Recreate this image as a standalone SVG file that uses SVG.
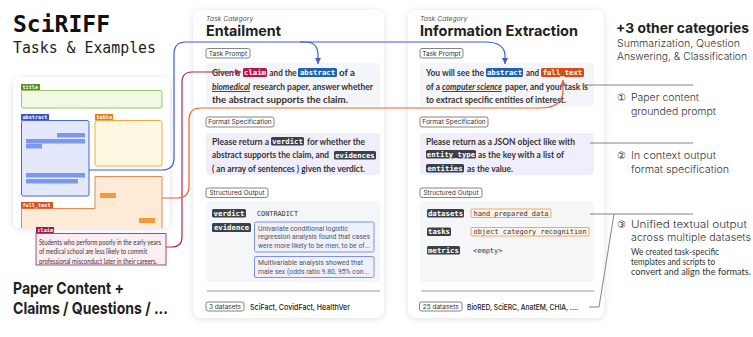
<svg xmlns="http://www.w3.org/2000/svg" width="753" height="337" viewBox="0 0 753 337">
<defs>
<filter id="sh" x="-10%" y="-10%" width="120%" height="120%"><feDropShadow dx="0" dy="1" stdDeviation="3" flood-color="#000" flood-opacity="0.13"/></filter>
<marker id="ab" markerWidth="6" markerHeight="6" refX="6" refY="3" orient="auto" markerUnits="userSpaceOnUse"><path d="M0,0 L6,3 L0,6 z" fill="#3f5bd6"/></marker>
<marker id="ac" markerWidth="6" markerHeight="6" refX="6" refY="3" orient="auto" markerUnits="userSpaceOnUse"><path d="M0,0 L6,3 L0,6 z" fill="#b3285a"/></marker>
<marker id="ao" markerWidth="6" markerHeight="6" refX="6" refY="3" orient="auto" markerUnits="userSpaceOnUse"><path d="M0,0 L6,3 L0,6 z" fill="#e8642c"/></marker>
<style>
.card{fill:#fff;filter:url(#sh)}
.mono{font-family:"DejaVu Sans Mono","Liberation Mono",monospace}
.tagt{font-family:"DejaVu Sans Mono","Liberation Mono",monospace;font-weight:bold;fill:#fff;font-size:7.3px}
.smt{font-family:"DejaVu Sans Mono","Liberation Mono",monospace;font-weight:bold;fill:#fff;font-size:5.2px}
.dark{fill:#3c4147}
.body{font-family:Lato,"Noto Sans",sans-serif;font-size:9.2px;fill:#333;font-weight:bold}
.cat{font-family:Inter,"Noto Sans",sans-serif;font-style:italic;font-size:6.8px;fill:#555}
.ttl{font-family:Inter,"Noto Sans",sans-serif;font-weight:bold;font-size:14.5px;fill:#222}
.pill{fill:#fff;stroke:#666;stroke-width:0.8}
.pt{font-family:Inter,"Noto Sans",sans-serif;font-size:6.5px;fill:#333}
.ev{font-family:Roboto,"Noto Sans",sans-serif;font-size:8px;fill:#555}
.val{font-family:"DejaVu Sans Mono","Liberation Mono",monospace;font-size:7px;fill:#333}
.foot{font-family:Inter,"Noto Sans",sans-serif;font-size:7.5px;fill:#222;font-weight:500}
.ann{font-family:Inter,"Noto Sans",sans-serif;font-size:10.5px;fill:#333;font-weight:300}
.note{font-family:Lato,"Noto Sans",sans-serif;font-size:8.5px;fill:#333}
.conn{fill:none;stroke-width:1.2}
.gl{fill:none;stroke:#777;stroke-width:0.9}
</style>
</defs>

<rect width="753" height="337" fill="#fff"/>

<g id="heading">
<text x="13" y="32" class="mono" font-weight="bold" font-size="23" fill="#111" textLength="97" lengthAdjust="spacingAndGlyphs">SciRIFF</text>
<text x="13" y="53" class="mono" font-size="16.5" fill="#222" textLength="143" lengthAdjust="spacingAndGlyphs">Tasks &amp; Examples</text>
</g>

<g id="paper-panel">
<rect x="13" y="77" width="157" height="151" rx="7" class="card"/>
<rect x="21" y="84" width="19" height="6.5" fill="#5a8f1e"/>
<text x="22.5" y="89.3" class="smt">title</text>
<rect x="21.5" y="90.5" width="140.5" height="17.5" rx="2" fill="#f1f9e3" stroke="#9dc36b" stroke-width="1"/>
<rect x="21" y="114" width="28" height="6.5" fill="#3a55c8"/>
<text x="22.5" y="119.3" class="smt">abstract</text>
<rect x="21.5" y="120.5" width="67.5" height="75.5" rx="2" fill="#e3e9fb" stroke="#4a63d6" stroke-width="1"/>
<g fill="#7b97f0">
<rect x="57" y="133" width="28" height="4.5"/>
<rect x="26" y="139" width="59" height="4.5"/>
<rect x="26" y="144" width="16" height="4.5"/>
<rect x="26" y="173" width="59" height="4.5"/>
<rect x="26" y="179" width="52" height="4.5"/>
</g>
<rect x="95" y="114" width="18" height="6.5" fill="#e87f0c"/>
<text x="96.5" y="119.3" class="smt">table</text>
<rect x="95" y="120.5" width="67" height="45.5" rx="2" fill="#fdf8e1" stroke="#f0a94a" stroke-width="1"/>
<path d="M21.5 228 V208.5 H95 V176 H162 V228 Z" fill="#fdebd8"/>
<path d="M21.5 228 V208.5 H95 V176.5 H162 V228" fill="none" stroke="#e8875a" stroke-width="1"/>
<rect x="21" y="202" width="32" height="6.5" fill="#d9541e"/>
<text x="22.5" y="207.3" class="smt">full_text</text>
<rect x="100" y="193" width="16" height="5" fill="#f59a3a"/>
<rect x="139" y="218" width="16" height="5" fill="#f59a3a"/>
</g>

<g id="claim">
<rect x="36" y="227" width="18" height="6.5" fill="#9b1d4a"/>
<text x="37.5" y="232.3" class="smt">claim</text>
<rect x="36" y="233.5" width="130" height="31.5" fill="#fdeef3" stroke="#b5476e" stroke-width="1"/>
<g font-family="Lato,'Noto Sans',sans-serif" font-size="6.6" fill="#333">
<text x="39" y="244.5" textLength="122" lengthAdjust="spacingAndGlyphs">Students who perform poorly in the early years</text>
<text x="39" y="254" textLength="108" lengthAdjust="spacingAndGlyphs">of medical school are less likely to commit</text>
<text x="39" y="263.5" textLength="118" lengthAdjust="spacingAndGlyphs">professional misconduct later in their careers.</text>
</g>
</g>

<g id="paper-caption" font-family="Inter,'Noto Sans',sans-serif" font-weight="bold" font-size="16.5" fill="#222">
<text x="13" y="294" textLength="111" lengthAdjust="spacingAndGlyphs">Paper Content +</text>
<text x="13" y="314" textLength="155" lengthAdjust="spacingAndGlyphs">Claims / Questions / ...</text>
</g>

<g id="card-entailment">
<rect x="193" y="10" width="191" height="308" rx="8" class="card"/>
<text x="206" y="20.5" class="cat">Task Category</text>
<text x="206" y="35.5" class="ttl" textLength="75" lengthAdjust="spacingAndGlyphs">Entailment</text>
<rect x="206" y="48.5" width="44" height="9.5" rx="2" class="pill"/>
<text x="228" y="55.5" class="pt" text-anchor="middle">Task Prompt</text>
<rect x="206" y="63" width="174" height="43" rx="4" fill="#f4f5f8"/>
<text x="212" y="76" class="body" textLength="28" lengthAdjust="spacingAndGlyphs">Given a</text>
<rect x="243" y="68" width="24" height="9" rx="1.5" fill="#b3164f"/>
<text x="255" y="75" class="tagt" text-anchor="middle">claim</text>
<text x="269.5" y="76" class="body" textLength="27" lengthAdjust="spacingAndGlyphs">and the</text>
<rect x="298" y="68" width="39" height="9" rx="1.5" fill="#1f62b0"/>
<text x="317.5" y="75" class="tagt" text-anchor="middle">abstract</text>
<text x="339" y="76" class="body" textLength="16" lengthAdjust="spacingAndGlyphs">of a</text>
<text x="212" y="89.5" class="body" font-style="italic" textLength="38" lengthAdjust="spacingAndGlyphs">biomedical</text>
<line x1="212" y1="91.5" x2="250" y2="91.5" stroke="#333" stroke-width="0.9"/>
<text x="253" y="89.5" class="body" textLength="120" lengthAdjust="spacingAndGlyphs">research paper, answer whether</text>
<text x="212" y="103" class="body" textLength="136" lengthAdjust="spacingAndGlyphs">the abstract supports the claim.</text>

<rect x="206" y="117" width="68" height="10" rx="2" class="pill"/>
<text x="240" y="124.3" class="pt" text-anchor="middle">Format Specification</text>
<rect x="206" y="133" width="174" height="42" rx="4" fill="#f0eefc"/>
<text x="212" y="144.5" class="body" textLength="57" lengthAdjust="spacingAndGlyphs">Please return a</text>
<rect x="271" y="137" width="33" height="8.5" rx="1.5" class="dark"/>
<text x="287.5" y="143.7" class="tagt" text-anchor="middle">verdict</text>
<text x="307" y="144.5" class="body" textLength="58" lengthAdjust="spacingAndGlyphs">for whether the</text>
<text x="212" y="158" class="body" font-size="9" textLength="117" lengthAdjust="spacingAndGlyphs">abstract supports the claim, and</text>
<rect x="334" y="151" width="42" height="8.5" rx="1.5" class="dark"/>
<text x="355" y="157.7" class="tagt" text-anchor="middle">evidences</text>
<text x="212" y="171.5" class="body" textLength="153" lengthAdjust="spacingAndGlyphs">( an array of sentences ) given the verdict.</text>

<rect x="206" y="188" width="62" height="9.5" rx="2" class="pill"/>
<text x="237" y="195" class="pt" text-anchor="middle">Structured Output</text>
<rect x="206" y="201" width="174" height="81" rx="4" fill="#f5f6f8"/>
<rect x="212" y="209" width="34" height="8.5" rx="1.5" class="dark"/>
<text x="229" y="215.7" class="tagt" text-anchor="middle">verdict</text>
<text x="257" y="215.5" class="val" textLength="41" lengthAdjust="spacingAndGlyphs">CONTRADICT</text>
<rect x="212" y="223" width="39" height="9" rx="1.5" class="dark"/>
<text x="231.5" y="230" class="tagt" text-anchor="middle">evidence</text>
<rect x="254.5" y="222" width="119.5" height="30" rx="1.5" fill="#eef1fd" stroke="#6f86e8" stroke-width="0.9"/>
<text x="258" y="230.5" class="ev" textLength="90" lengthAdjust="spacingAndGlyphs">Univariate conditional logistic</text>
<text x="258" y="239" class="ev" textLength="112" lengthAdjust="spacingAndGlyphs">regression analysis found that cases</text>
<text x="258" y="248" class="ev" textLength="112" lengthAdjust="spacingAndGlyphs">were more likely to be men, to be of...</text>
<rect x="254.5" y="256.5" width="119.5" height="21" rx="1.5" fill="#eef1fd" stroke="#6f86e8" stroke-width="0.9"/>
<text x="258" y="265" class="ev" textLength="105" lengthAdjust="spacingAndGlyphs">Multivariable analysis showed that</text>
<text x="258" y="274" class="ev" textLength="111" lengthAdjust="spacingAndGlyphs">male sex (odds ratio 9.80, 95% con...</text>

<line x1="207" y1="291" x2="380" y2="291" stroke="#999" stroke-width="1"/>
<rect x="206" y="302" width="38" height="9" rx="2" class="pill"/>
<text x="225" y="308.6" class="pt" text-anchor="middle" font-size="5.8">3 datasets</text>
<text x="250" y="309.5" class="foot" textLength="100" lengthAdjust="spacingAndGlyphs">SciFact, CovidFact, HealthVer</text>
</g>

<g id="card-ie">
<rect x="408" y="10" width="196" height="308" rx="8" class="card"/>
<text x="420" y="20.5" class="cat">Task Category</text>
<text x="420" y="35.5" class="ttl" textLength="158" lengthAdjust="spacingAndGlyphs">Information Extraction</text>
<rect x="420" y="48.5" width="43" height="9.5" rx="2" class="pill"/>
<text x="441.5" y="55.5" class="pt" text-anchor="middle">Task Prompt</text>
<rect x="420" y="63" width="174" height="43" rx="4" fill="#f4f5f8"/>
<text x="426" y="76" class="body" textLength="58" lengthAdjust="spacingAndGlyphs">You will see the</text>
<rect x="486" y="68" width="37" height="9" rx="1.5" fill="#1f62b0"/>
<text x="504.5" y="75" class="tagt" text-anchor="middle">abstract</text>
<text x="526" y="76" class="body" textLength="13" lengthAdjust="spacingAndGlyphs">and</text>
<rect x="541" y="68" width="43" height="9" rx="1.5" fill="#d64d16"/>
<text x="562.5" y="75" class="tagt" text-anchor="middle">full_text</text>
<text x="426" y="89.5" class="body" textLength="14" lengthAdjust="spacingAndGlyphs">of a</text>
<text x="442" y="89.5" class="body" font-style="italic" textLength="60" lengthAdjust="spacingAndGlyphs">computer science</text>
<line x1="442" y1="91.5" x2="502" y2="91.5" stroke="#333" stroke-width="0.9"/>
<text x="505" y="89.5" class="body" textLength="83" lengthAdjust="spacingAndGlyphs">paper, and your task is</text>
<text x="426" y="103" class="body" textLength="140" lengthAdjust="spacingAndGlyphs">to extract specific entities of interest.</text>

<rect x="420" y="117" width="68" height="10" rx="2" class="pill"/>
<text x="454" y="124.3" class="pt" text-anchor="middle">Format Specification</text>
<rect x="420" y="133" width="174" height="42" rx="4" fill="#f0eefc"/>
<text x="426" y="144.5" class="body" textLength="149" lengthAdjust="spacingAndGlyphs">Please return as a JSON object like with</text>
<rect x="426" y="150" width="50" height="8.5" rx="1.5" class="dark"/>
<text x="451" y="156.7" class="tagt" text-anchor="middle">entity_type</text>
<text x="478" y="158" class="body" textLength="86" lengthAdjust="spacingAndGlyphs">as the key with a list of</text>
<rect x="426" y="164" width="38" height="8.5" rx="1.5" class="dark"/>
<text x="445" y="170.7" class="tagt" text-anchor="middle">entities</text>
<text x="467" y="171.5" class="body" textLength="46" lengthAdjust="spacingAndGlyphs">as the value.</text>

<rect x="420" y="188" width="62" height="9.5" rx="2" class="pill"/>
<text x="451" y="195" class="pt" text-anchor="middle">Structured Output</text>
<rect x="420" y="201" width="174" height="81" rx="4" fill="#f5f6f8"/>
<rect x="427" y="209" width="37" height="8.5" rx="1.5" class="dark"/>
<text x="445.5" y="215.7" class="tagt" text-anchor="middle">datasets</text>
<rect x="471" y="209" width="80" height="8.5" rx="1" fill="#fdf3e7" stroke="#f2a054" stroke-width="0.9"/>
<text x="473.5" y="215.6" class="val" textLength="75" lengthAdjust="spacingAndGlyphs">hand prepared data</text>
<rect x="427" y="227.5" width="24" height="8.5" rx="1.5" class="dark"/>
<text x="439" y="234.2" class="tagt" text-anchor="middle">tasks</text>
<rect x="471" y="227.5" width="118" height="8.5" rx="1" fill="#fdf3e7" stroke="#f2a054" stroke-width="0.9"/>
<text x="473.5" y="234.1" class="val" textLength="113" lengthAdjust="spacingAndGlyphs">object category recognition</text>
<rect x="427" y="246" width="33" height="8.5" rx="1.5" class="dark"/>
<text x="443.5" y="252.7" class="tagt" text-anchor="middle">metrics</text>
<text x="473" y="252.5" class="val" font-size="6.3" fill="#555">&lt;empty&gt;</text>

<line x1="421" y1="291" x2="594" y2="291" stroke="#999" stroke-width="1"/>
<rect x="419.5" y="302" width="42.5" height="9" rx="2" class="pill"/>
<text x="440.7" y="308.6" class="pt" text-anchor="middle" font-size="5.8">25 datasets</text>
<text x="467" y="309.5" class="foot" textLength="111" lengthAdjust="spacingAndGlyphs">BioRED, SciERC, AnatEM, CHIA, ....</text>
</g>

<g id="other-categories">
<text x="616" y="33" font-family="Inter,'Noto Sans',sans-serif" font-weight="bold" font-size="13.5" fill="#222" textLength="133" lengthAdjust="spacingAndGlyphs">+3 other categories</text>
<text x="617" y="46.5" class="ann" textLength="123" lengthAdjust="spacingAndGlyphs">Summarization, Question</text>
<text x="617" y="59.5" class="ann" textLength="130" lengthAdjust="spacingAndGlyphs">Answering, &amp; Classification</text>
</g>

<g id="annotations">
<text x="617" y="100.5" class="ann"><tspan font-family="'DejaVu Sans',sans-serif" font-size="9.5">①</tspan></text>
<text x="631" y="100.5" class="ann" textLength="68" lengthAdjust="spacingAndGlyphs">Paper content</text>
<text x="631" y="114.5" class="ann" textLength="85" lengthAdjust="spacingAndGlyphs">grounded prompt</text>
<text x="617" y="158.5" class="ann"><tspan font-family="'DejaVu Sans',sans-serif" font-size="9.5">②</tspan></text>
<text x="631" y="158.5" class="ann" textLength="85" lengthAdjust="spacingAndGlyphs">In context output</text>
<text x="631" y="172.5" class="ann" textLength="98" lengthAdjust="spacingAndGlyphs">format specification</text>
<text x="617" y="227.5" class="ann"><tspan font-family="'DejaVu Sans',sans-serif" font-size="9.5">③</tspan></text>
<text x="631" y="227.5" class="ann" textLength="116" lengthAdjust="spacingAndGlyphs">Unified textual output</text>
<text x="631" y="241" class="ann" textLength="120" lengthAdjust="spacingAndGlyphs">across multiple datasets</text>
<text x="631" y="255" class="note" textLength="88" lengthAdjust="spacingAndGlyphs">We created task-specific</text>
<text x="631" y="265" class="note" textLength="84" lengthAdjust="spacingAndGlyphs">templates and scripts to</text>
<text x="631" y="275" class="note" textLength="120" lengthAdjust="spacingAndGlyphs">convert and align the formats.</text>
</g>

<g id="connectors">
<path class="conn" stroke="#3f5bd6" d="M89 170 H162 Q174 170 174 158 V54 Q174 42 186 42 H485 Q505 42 505 56 V64" marker-end="url(#ab)"/>
<path class="conn" stroke="#3f5bd6" d="M300 42 H305 Q318 42 318 55 V64" marker-end="url(#ab)"/>
<path class="conn" stroke="#b3285a" d="M166 247 H172 Q182 247 182 237 V82 Q182 72 192 72 H241" marker-end="url(#ac)"/>
<path class="conn" stroke="#e8642c" d="M162 198 H177 Q189 198 189 186 V120 Q189 108 201 108 H540 Q563 108 563 90 V80" marker-end="url(#ao)"/>
<path class="gl" d="M582 85 H693"/>
<path class="gl" d="M590 143 H693"/>
<path class="gl" d="M590 214 H693"/>
<path class="gl" d="M589 307 H599 L614 214"/>
</g>
</svg>
